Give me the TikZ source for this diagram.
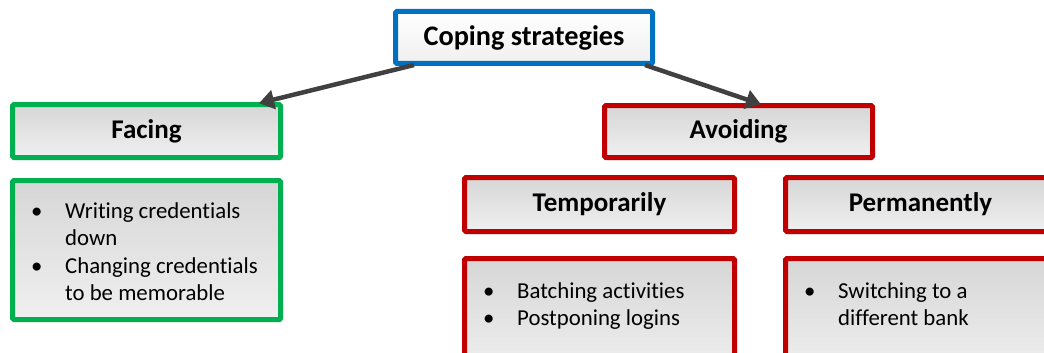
\documentclass[tikz,border=0pt]{standalone}
\usepackage{fontspec}
\setmainfont{Carlito}[Ligatures=NoCommon]
\usetikzlibrary{arrows.meta,shadows,calc}
\definecolor{boxblue}{HTML}{0070C0}
\definecolor{boxgreen}{HTML}{00B050}
\definecolor{boxred}{HTML}{C00000}
\definecolor{arrowgray}{HTML}{404040}
\tikzset{
  card/.style={draw, line width=5pt, rounded corners=1.5pt,
    top color=black!16, bottom color=black!6,
    drop shadow={shadow xshift=2pt, shadow yshift=-2.5pt, opacity=0.25, fill=black},
    font=\fontsize{27}{31}\selectfont\bfseries, inner sep=0pt},
  titlecard/.style={card, top color=white, bottom color=black!6,
    font=\fontsize{28.3}{32}\selectfont\bfseries},
  itemtext/.style={anchor=base west, inner sep=0pt, font=\fontsize{22.8}{27.5}\selectfont},
  link/.style={draw=arrowgray, line width=4.5pt,
    -{Triangle[length=15pt,width=19pt]}, shorten >=-1pt}
}
\newcommand{\bitem}{\makebox[34pt][l]{\textbullet}}
\begin{document}
\begin{tikzpicture}[x=1pt,y=-1pt]
\useasboundingbox (0,0) rectangle (1044,353);
\clip (0,0) rectangle (1044,353);

% top node
\node[titlecard, draw=boxblue, minimum width=257pt, minimum height=52pt] (cope) at (524,37.5) {Coping strategies};

% left branch
\node[card, draw=boxgreen, minimum width=268pt, minimum height=53pt] (facing) at (146.5,131) {Facing};
\node[card, draw=boxgreen, minimum width=268pt, minimum height=139pt] (facelist) at (146.5,250) {};
\node[itemtext] (facetext) at (31,218) {\begin{tabular}[t]{@{}l@{}l@{}}
\bitem & Writing credentials\\
 & down\\
\bitem & Changing credentials\\
 & to be memorable
\end{tabular}};

% right branch
\node[card, draw=boxred, minimum width=268pt, minimum height=52pt] (avoid) at (738.5,131.5) {Avoiding};
\node[card, draw=boxred, minimum width=270pt, minimum height=54pt] (temp) at (599.5,204.5) {Temporarily};
\node[card, draw=boxred, minimum width=270pt, minimum height=115pt] (templist) at (599.5,316) {};
\node[itemtext] (temptext) at (483,298) {\begin{tabular}[t]{@{}l@{}l@{}}
\bitem & Batching activities\\
\bitem & Postponing logins
\end{tabular}};
\node[card, draw=boxred, minimum width=270pt, minimum height=54pt] (perm) at (920.5,204.5) {Permanently};
\node[card, draw=boxred, minimum width=270pt, minimum height=115pt] (permlist) at (920.5,316) {};
\node[itemtext] (permtext) at (804,298) {\begin{tabular}[t]{@{}l@{}l@{}}
\bitem & Switching to a\\
 & different bank
\end{tabular}};

% connectors
\coordinate (fromL) at ($(cope.south west)+(21,-1)$);
\coordinate (fromR) at ($(cope.south east)+(-10,-1)$);
\coordinate (toL) at ($(facing.north east)+(-23,1)$);
\coordinate (toR) at ($(avoid.north west)+(158,1)$);
\draw[link] (fromL) -- (toL);
\draw[link] (fromR) -- (toR);
\end{tikzpicture}
\end{document}
